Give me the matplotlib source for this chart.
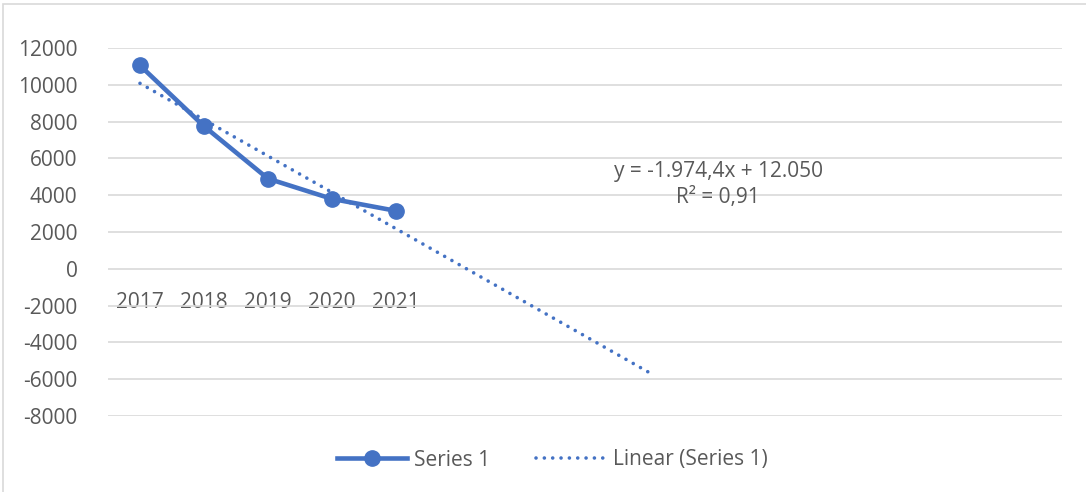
import numpy as np
import matplotlib.pyplot as plt
from matplotlib.patches import Rectangle

# data
years = ['2017', '2018', '2019', '2020', '2021']
values = [11050, 7750, 4900, 3800, 3150]
forecast_periods = 4
eq_text = 'y = -1.974,4x + 12.050'
r2_text = 'R² = 0,91'

blue = '#4472C4'
grey_txt = '#595959'
grid_col = '#D9D9D9'

plt.rcParams['font.family'] = ['Open Sans', 'DejaVu Sans']
plt.rcParams['axes.unicode_minus'] = False


def main():
    fig = plt.figure(figsize=(10.86, 4.92), dpi=100)
    ax = fig.add_axes([108 / 1086, 1 - 416 / 492, (1062 - 108) / 1086, (416 - 48) / 492])

    x = np.arange(1, len(values) + 1)
    # linear trendline (least squares), extended forward
    slope, intercept = np.polyfit(x, values, 1)
    xt = np.array([1, len(values) + forecast_periods])
    yt = slope * xt + intercept

    ax.plot(x, values, '-o', color=blue, lw=3.3, markersize=11, label='Series 1', zorder=3)
    ax.plot(xt, yt, color=blue, lw=2.6, dashes=(0.01, 2.3), dash_capstyle='round',
            label='Linear (Series 1)', zorder=2)

    ax.set_xlim(0.5, 15.41)
    ax.set_ylim(-8000, 12000)
    ax.set_yticks(np.arange(-8000, 12001, 2000))
    ax.grid(axis='y', color=grid_col, lw=1.2)
    ax.set_axisbelow(True)
    for s in ax.spines.values():
        s.set_visible(False)
    ax.spines['bottom'].set_position(('data', 0))
    ax.set_xticks(x)
    ax.set_xticklabels(years)
    ax.tick_params(axis='x', length=0, pad=17, labelsize=15, labelcolor=grey_txt)
    ax.tick_params(axis='y', length=0, pad=22, labelsize=15, labelcolor=grey_txt)

    # trendline label
    fig.text(718 / 1086, 1 - 172 / 492, eq_text, fontsize=15, color=grey_txt,
             ha='center', va='center')
    fig.text(718 / 1086, 1 - 197 / 492, r2_text, fontsize=15, color=grey_txt,
             ha='center', va='center')

    fig.legend(loc='center', bbox_to_anchor=(552 / 1086, 1 - 460 / 492), ncol=2,
               frameon=False, fontsize=15, labelcolor=grey_txt, handlelength=3.4,
               columnspacing=2.2, handletextpad=0.3)

    # chart border
    fig.patches.append(Rectangle((3 / 1086, -0.1), 1.2, 1.1 - 4 / 492, transform=fig.transFigure,
                                 fill=False, edgecolor=grid_col, lw=1.2))

    fig.savefig('out.png', dpi=100)


if __name__ == "__main__":
    main()
